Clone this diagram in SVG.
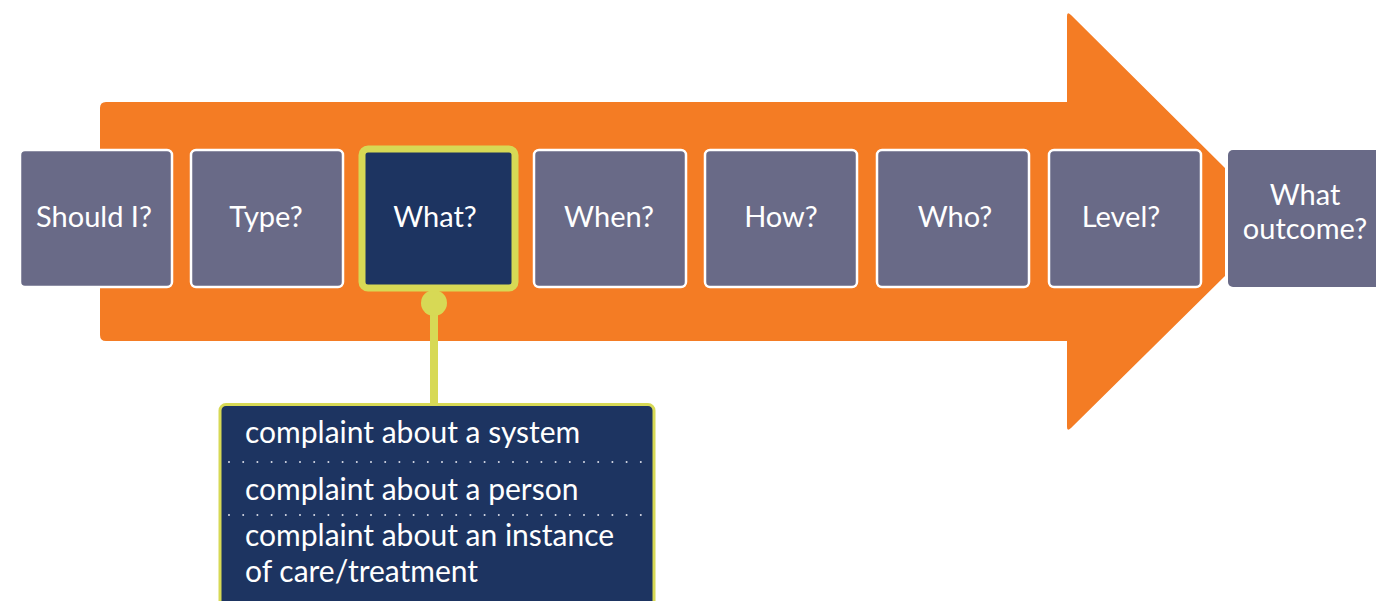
<svg xmlns="http://www.w3.org/2000/svg" width="1376" height="601" viewBox="0 0 1376 601">
<defs>
<style>
.box{fill:#696a87;stroke:#ffffff;stroke-width:2.5}
.lbl{font-family:Lato,"Open Sans","Liberation Sans",sans-serif;font-size:29px;fill:#ffffff;text-anchor:middle}
.item{font-family:Lato,"Open Sans","Liberation Sans",sans-serif;font-size:30px;fill:#ffffff}
.dots{stroke:#d8dbe6;stroke-width:2;stroke-linecap:round;stroke-dasharray:0 14.2}
</style>
</defs>
<rect width="1376" height="601" fill="#ffffff"/>
<g id="arrow">
<path d="M106,102 L1067,102 L1067,16 Q1067,11 1071,15 L1225,168 L1225,276 L1071,428 Q1067,432 1067,427 L1067,341 L106,341 Q100,341 100,335 L100,108 Q100,102 106,102 Z" fill="#f47c24"/>
</g>
<g id="connectors">
<line x1="434" y1="303" x2="434" y2="405" stroke="#d7d955" stroke-width="8"/>
<circle cx="434" cy="303" r="13" fill="#d7d955"/>
</g>
<g id="n1"><rect class="box" x="20" y="150" width="152" height="137" rx="5"/><text class="lbl" x="94" y="227">Should I?</text></g>
<g id="n2"><rect class="box" x="191" y="150" width="152" height="137" rx="5"/><text class="lbl" x="266" y="227">Type?</text></g>
<g id="n3"><rect x="362" y="149" width="153" height="139" rx="6" fill="#1d3461" stroke="#d7d955" stroke-width="7"/><text class="lbl" x="435" y="227">What?</text></g>
<g id="n4"><rect class="box" x="534" y="150" width="152" height="137" rx="5"/><text class="lbl" x="609" y="227">When?</text></g>
<g id="n5"><rect class="box" x="705" y="150" width="152" height="137" rx="5"/><text class="lbl" x="781" y="227">How?</text></g>
<g id="n6"><rect class="box" x="877" y="150" width="152" height="137" rx="5"/><text class="lbl" x="955" y="227">Who?</text></g>
<g id="n7"><rect class="box" x="1049" y="150" width="152" height="137" rx="5"/><text class="lbl" x="1121" y="227">Level?</text></g>
<g id="n8"><rect x="1228" y="150" width="160" height="137" rx="5" fill="#696a87"/><text class="lbl" x="1305" y="205">What</text><text class="lbl" x="1305" y="239">outcome?</text></g>
<g id="callout">
<rect x="220" y="404.5" width="434" height="210" rx="6" fill="#1d3461" stroke="#d7d955" stroke-width="3"/>
<text class="item" x="245" y="443">complaint about a system</text>
<line class="dots" x1="229" y1="462" x2="642" y2="462"/>
<text class="item" x="245" y="500">complaint about a person</text>
<line class="dots" x1="229" y1="515" x2="642" y2="515"/>
<text class="item" x="245" y="546">complaint about an instance</text>
<text class="item" x="245" y="582">of care/treatment</text>
</g>
</svg>
